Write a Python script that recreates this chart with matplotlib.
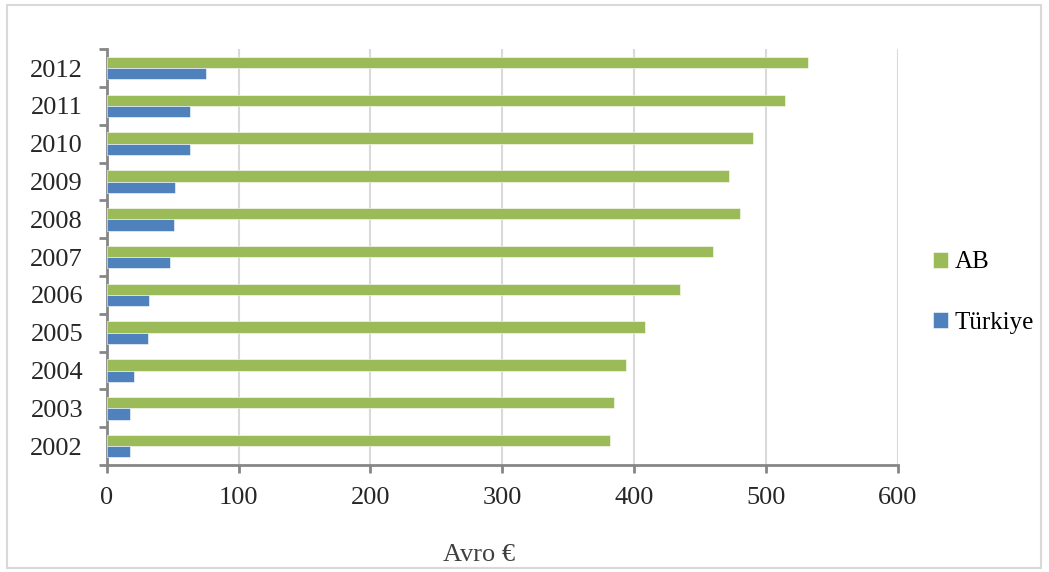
import numpy as np
import matplotlib.pyplot as plt
from matplotlib.patches import Rectangle

years = ['2002', '2003', '2004', '2005', '2006', '2007', '2008', '2009', '2010', '2011', '2012']
ab = [382, 385, 394, 408, 435, 460, 480, 472, 490, 514, 532]
turkiye = [18, 18, 21, 31, 32, 48, 51, 52, 63, 63, 75]

green = '#9BBB59'
blue = '#4F81BD'
axis_gray = '#868686'
grid_gray = '#d9d9d9'

plt.rcParams['font.family'] = ['Liberation Serif', 'DejaVu Serif']

fig = plt.figure(figsize=(10.49, 5.72), dpi=100)
ax = fig.add_axes([0.1017, 0.187, 0.7543, 0.727])

y = np.arange(len(years))
h = 0.3
ax.barh(y + h / 2, ab, height=h, color=green, edgecolor='white', linewidth=0.4, label='AB', zorder=3)
ax.barh(y - h / 2, turkiye, height=h, color=blue, edgecolor='white', linewidth=0.4, label='Türkiye', zorder=3)

ax.set_xlim(0, 600)
ax.set_ylim(-0.5, len(years) - 0.5)
ax.set_xticks(np.arange(0, 601, 100))
ax.set_yticks(y)
ax.set_yticklabels(years)
ax.set_yticks(np.arange(-0.5, len(years), 1), minor=True)

ax.grid(axis='x', color=grid_gray, linewidth=1.5, zorder=0)
for side in ['top', 'right']:
    ax.spines[side].set_visible(False)
for side in ['left', 'bottom']:
    ax.spines[side].set_color(axis_gray)
    ax.spines[side].set_linewidth(2)

ax.tick_params(axis='y', which='major', length=0, labelsize=19, pad=17, labelcolor='#262626')
ax.tick_params(axis='y', which='minor', length=6, width=2, color=axis_gray)
ax.tick_params(axis='x', which='major', length=6, width=2, color=axis_gray,
               labelsize=19, pad=10, labelcolor='#262626')

ax.set_xlabel('Avro €', fontsize=19, color='#404040')
ax.xaxis.set_label_coords(0.47, -0.19)

ax.legend(loc='center left', bbox_to_anchor=(0.868, 0.488), bbox_transform=fig.transFigure,
          frameon=False, fontsize=18, handlelength=0.6, handleheight=0.6,
          handletextpad=0.25, labelspacing=1.55)

fig.patches.append(Rectangle((0.007, 0.007), 0.985, 0.985, transform=fig.transFigure,
                             fill=False, edgecolor=grid_gray, linewidth=1.5))

fig.savefig('out.png', dpi=100)
